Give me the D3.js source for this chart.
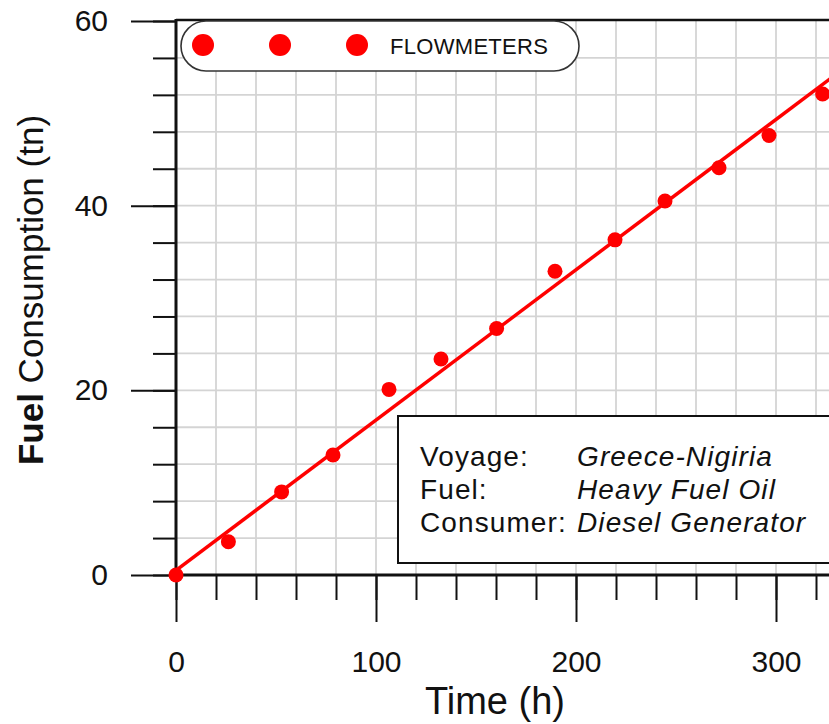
<!DOCTYPE html>
<html>
<head>
<meta charset="utf-8">
<script src="https://cdn.jsdelivr.net/npm/d3@7"></script>
<style>
  html, body { margin: 0; padding: 0; background: #fff; }
  svg { display: block; font-family: "Liberation Sans", Arial, sans-serif; }
</style>
</head>
<body>
<svg id="chart" width="829" height="724"></svg>
<script>
// ---- data ----
const timeHours = [0, 26.2, 52.8, 78.5, 106.5, 132.5, 160.3, 189.5, 219.5, 244.5, 271.5, 296.5, 323.3];
const fuelTons  = [0, 3.6, 9.0, 13.0, 20.1, 23.4, 26.7, 32.9, 36.3, 40.5, 44.1, 47.6, 52.1];
const fitTime = [0, 340];
const fitFuel = [0.5, 55.85];
const xMajorTicks = [0, 100, 200, 300];
const yMajorTicks = [0, 20, 40, 60];
const xMinorTicks = d3.range(0, 341, 20);
const yMinorTicks = d3.range(0, 61, 4);
const legendLabel = "FLOWMETERS";
const infoKeys = ["Voyage:", "Fuel:", "Consumer:"];
const infoValues = ["Greece-Nigiria", "Heavy Fuel Oil", "Diesel Generator"];

// ---- layout ----
const svg = d3.select("#chart");
const x = d3.scaleLinear().domain([0, 340]).range([176, 856]);
const y = d3.scaleLinear().domain([0, 60]).range([575, 21]);

const x0 = x(0), y0 = y(0), yTop = y(60), xRight = x(340);

// grid
const grid = svg.append("g").attr("stroke", "#d4d4d4").attr("stroke-width", 1.8);
grid.selectAll("line.v").data(xMinorTicks.filter(d => d > 0)).join("line")
  .attr("x1", d => x(d)).attr("x2", d => x(d)).attr("y1", yTop).attr("y2", y0);
grid.selectAll("line.h").data(yMinorTicks.filter(d => d > 0 && d < 60)).join("line")
  .attr("x1", x0).attr("x2", xRight).attr("y1", d => y(d)).attr("y2", d => y(d));

// axes ticks
const fontTick = 30;
const yMinor = svg.append("g").attr("transform", `translate(${x0},0)`)
  .call(d3.axisLeft(y).tickValues(yMinorTicks).tickSize(23).tickFormat(""));
const yMajor = svg.append("g").attr("transform", `translate(${x0},0)`)
  .call(d3.axisLeft(y).tickValues(yMajorTicks).tickSize(45).tickPadding(23).tickFormat(d3.format("d")));
const xMinor = svg.append("g").attr("transform", `translate(0,${y0})`)
  .call(d3.axisBottom(x).tickValues(xMinorTicks).tickSize(25).tickFormat(""));
const xMajor = svg.append("g").attr("transform", `translate(0,${y0})`)
  .call(d3.axisBottom(x).tickValues(xMajorTicks).tickSize(47).tickPadding(29).tickFormat(d3.format("d")));
[yMinor, yMajor, xMinor, xMajor].forEach(g => {
  g.select(".domain").remove();
  g.selectAll(".tick line").attr("stroke", "#111").attr("stroke-width", 2);
  g.selectAll(".tick text").attr("font-size", fontTick).attr("fill", "#111")
    .attr("font-family", "Liberation Sans, Arial, sans-serif");
});

// axis frame lines
svg.append("line").attr("x1", x0).attr("x2", xRight).attr("y1", yTop - 1).attr("y2", yTop - 1)
  .attr("stroke", "#111").attr("stroke-width", 2.5);
svg.append("line").attr("x1", x0).attr("x2", x0).attr("y1", yTop - 2).attr("y2", y0 + 1.5)
  .attr("stroke", "#111").attr("stroke-width", 3);
svg.append("line").attr("x1", x0 - 1.5).attr("x2", xRight).attr("y1", y0).attr("y2", y0)
  .attr("stroke", "#111").attr("stroke-width", 3);

// info box
const box = svg.append("g");
box.append("rect").attr("x", 398).attr("y", 416).attr("width", 460).attr("height", 147)
  .attr("fill", "#fff").attr("stroke", "#111").attr("stroke-width", 2);
infoKeys.forEach((k, i) => {
  box.append("text").attr("x", 420).attr("y", 466 + i * 33).attr("font-size", 28)
    .attr("letter-spacing", 1.1).attr("fill", "#111").text(k);
  box.append("text").attr("x", 577).attr("y", 466 + i * 33).attr("font-size", 28)
    .attr("letter-spacing", 1.1).attr("font-style", "italic").attr("fill", "#111").text(infoValues[i]);
});

// fit line
svg.append("path")
  .datum(fitTime.map((t, i) => [t, fitFuel[i]]))
  .attr("d", d3.line().x(d => x(d[0])).y(d => y(d[1])))
  .attr("stroke", "#ff0000").attr("stroke-width", 3.5).attr("fill", "none");

// points
svg.append("g").selectAll("circle").data(timeHours.map((t, i) => [t, fuelTons[i]])).join("circle")
  .attr("cx", d => x(d[0])).attr("cy", d => y(d[1])).attr("r", 7.5).attr("fill", "#ff0000");

// legend
const leg = svg.append("g");
leg.append("rect").attr("x", 181).attr("y", 21).attr("width", 398).attr("height", 50)
  .attr("rx", 25).attr("ry", 25).attr("fill", "#fff").attr("stroke", "#333").attr("stroke-width", 1.6);
[203, 280, 357].forEach(cx => {
  leg.append("circle").attr("cx", cx).attr("cy", 45).attr("r", 11).attr("fill", "#ff0000");
});
leg.append("text").attr("x", 390).attr("y", 54).attr("font-size", 22).attr("letter-spacing", 0.3)
  .attr("fill", "#111").text(legendLabel);

// axis titles
svg.append("text").attr("x", 495).attr("y", 714).attr("text-anchor", "middle")
  .attr("font-size", 38).attr("fill", "#111").text("Time (h)");
const yt = svg.append("text").attr("transform", "translate(43,290) rotate(-90)")
  .attr("text-anchor", "middle").attr("font-size", 35).attr("fill", "#111");
yt.append("tspan").attr("font-weight", "bold").text("Fuel");
yt.append("tspan").text(" Consumption (tn)");
</script>
</body>
</html>
